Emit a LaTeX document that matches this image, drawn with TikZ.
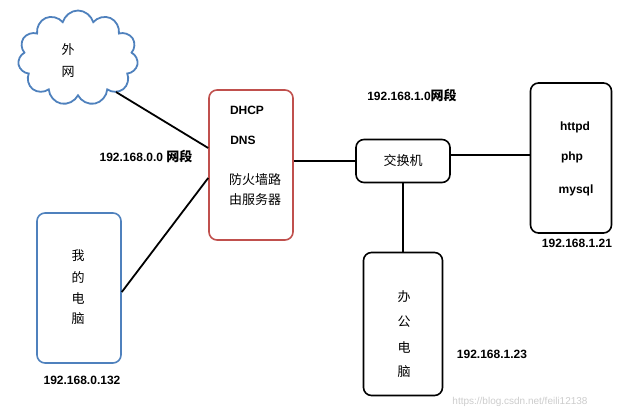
\documentclass[tikz,border=0pt]{standalone}
\usepackage{fontspec}
\setmainfont{Liberation Sans}
\newfontfamily\cjk{Noto Sans CJK SC}
\usetikzlibrary{shapes.symbols}
\definecolor{pcblue}{RGB}{79,129,189}
\definecolor{fwred}{RGB}{192,80,77}

\begin{document}
\begin{tikzpicture}[x=1pt, y=-1pt, font=\cjk\fontsize{13}{15}\selectfont,
  box/.style={draw, rounded corners=8pt, line width=1.6pt, inner sep=0pt},
  lbl/.style={font=\bfseries\fontsize{12}{14}\selectfont},
  link/.style={line width=1.8pt}]

  \useasboundingbox (0,0) rectangle (627,419);

  % Devices
  \node[cloud, draw=pcblue, line width=1.8pt, cloud puffs=11, aspect=1.3,
        minimum width=120pt, minimum height=95pt, inner sep=0pt] (cloud) at (78,58) {};
  \node[box, draw=fwred, minimum width=84pt, minimum height=150pt] (router) at (251,165) {};
  \node[box, draw=pcblue, minimum width=84pt, minimum height=150pt] (mypc) at (79,288) {};
  \node[box, minimum width=94pt, minimum height=43pt] (switch) at (403,161) {交换机};
  \node[box, minimum width=81pt, minimum height=150pt] (server) at (571,158) {};
  \node[box, minimum width=79pt, minimum height=143pt] (office) at (403,324) {};

  % Texts inside
  \node at (68,50) {外};
  \node at (68,72) {网};
  \node[lbl] at (247,110) {DHCP};
  \node[lbl] at (243,140) {DNS};
  \node at (255,180) {防火墙路};
  \node at (255,200) {由服务器};
  \foreach \t [count=\i] in {我,的,电,脑}
    \node at (78,235+21*\i) {\t};
  \node[lbl] at (575,127) {httpd};
  \node[lbl] at (572,157) {php};
  \node[lbl] at (576,190) {mysql};
  \foreach \t [count=\i] in {办,公,电,脑}
    \node at (404,272+25*\i) {\t};

  % Address labels
  \node[lbl] (net0) at (146,156) {192.168.0.0 {\cjk\fontsize{13}{15}\selectfont 网段}};
  \node[lbl] (net1) at (412,95) {192.168.1.0{\cjk\fontsize{13}{15}\selectfont 网段}};
  \node[lbl] at (82,380) {192.168.0.132};
  \node[lbl] at (577,243) {192.168.1.21};
  \node[lbl] at (492,354) {192.168.1.23};
  \node[text=gray!40, font=\fontsize{10}{12}\selectfont] at (520,402) {https://blog.csdn.net/feili12138};

  % Connections
  \coordinate (c1) at (116,92);
  \draw[link] (c1) -- (router.west |- 0,148);
  \draw[link] (mypc.east |- 0,292) -- (router.west |- 0,178);
  \draw[link] (router.east |- switch) -- (switch.west);
  \draw[link] (switch.east |- 0,155) -- (server.west |- 0,155);
  \draw[link] (switch.south) -- (office.north);
\end{tikzpicture}
\end{document}
